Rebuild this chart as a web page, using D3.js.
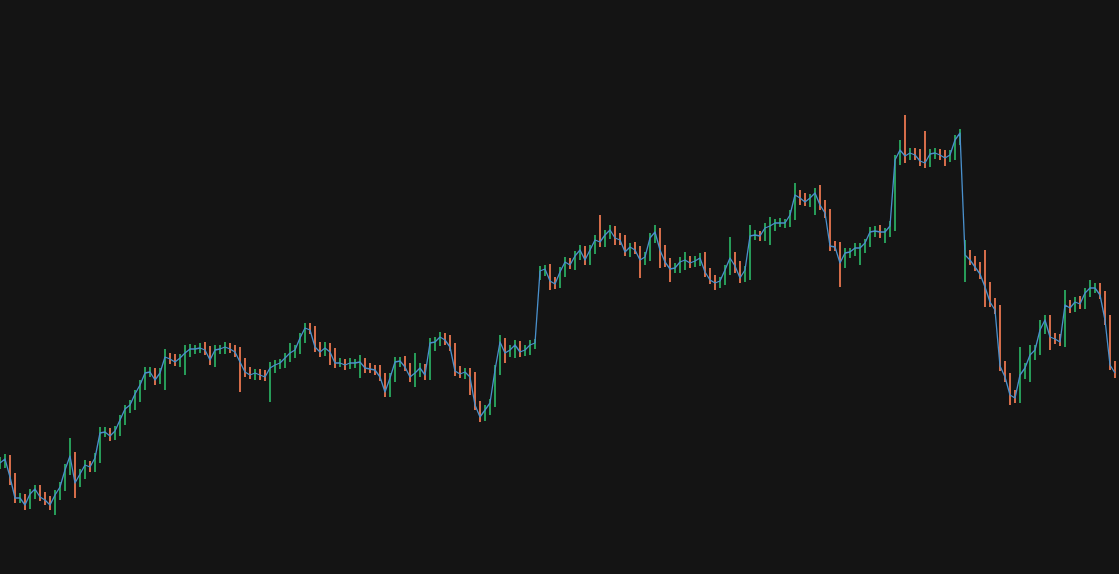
<!DOCTYPE html>
<html>
<head>
<meta charset="utf-8">
<script src="https://cdn.jsdelivr.net/npm/d3@7"></script>
<style>
  html, body { margin: 0; padding: 0; background: #141414; }
  svg { display: block; }
  .wick { stroke-width: 1.8; }
  .close-line { fill: none; stroke: #4a90cc; stroke-width: 1.3; stroke-linejoin: round; }
</style>
</head>
<body>
<svg width="1119" height="574"></svg>
<script>
const width = 1119, height = 574;

// closing prices, one per bar
const close = [
  137,141,123,102,102,95,106,111,103,100,
  95,105,113,130,144,117,126,135,133,142,
  167,168,164,169,180,191,195,206,215,227,
  228,220,227,243,241,238,242,247,251,251,
  252,250,240,250,251,253,251,248,238,228,
  225,227,225,223,232,235,237,242,247,250,
  262,272,270,253,248,252,248,237,237,235,
  237,237,238,232,231,230,223,208,222,238,
  239,233,223,227,232,225,257,258,263,260,
  253,229,226,228,223,195,183,190,197,230,
  258,247,250,255,248,250,255,257,329,331,
  319,316,328,338,335,344,350,340,350,360,
  358,365,370,362,360,348,353,350,340,343,
  362,368,350,338,331,332,338,340,337,339,
  342,328,320,317,319,330,342,334,322,330,
  364,365,364,372,374,377,377,377,385,405,
  402,398,402,407,395,387,354,353,337,347,
  348,352,352,357,368,369,368,368,374,440,
  450,444,447,445,439,437,446,447,445,442,
  445,460,467,345,340,333,326,313,298,290,
  234,223,205,202,225,232,245,250,270,280,
  263,261,258,295,292,298,296,307,312,312,
  305,280,235,227
];

// upper wick length above max(open, close)
const upperWick = [
  6,5,4,4,5,4,5,4,4,5,
  4,5,5,6,18,4,5,5,4,5,
  6,5,4,5,5,4,5,4,5,6,
  5,4,5,8,4,5,4,8,5,4,
  5,6,4,5,4,5,4,4,5,4,
  5,4,4,5,6,5,4,5,10,5,
  5,5,5,4,5,6,5,4,5,4,
  5,4,7,4,5,4,5,4,5,5,
  4,5,4,20,5,4,5,5,5,4,
  5,4,5,4,4,5,4,5,4,5,
  7,4,5,5,4,5,5,4,5,4,
  5,4,5,5,4,5,5,4,5,5,
  25,5,5,4,5,5,4,5,4,5,
  5,7,4,5,4,5,5,8,4,5,
  5,6,4,5,4,5,21,6,5,4,
  11,5,4,5,9,4,5,4,5,12,
  5,5,4,5,8,5,4,5,5,5,
  4,5,5,4,5,5,6,4,5,5,
  10,35,5,5,6,30,5,5,4,5,
  5,5,4,15,5,4,5,24,5,4,
  5,5,4,5,28,5,10,5,10,5,
  5,4,5,15,5,5,6,5,8,5,
  5,4,5,4
];

// lower wick length below min(open, close)
const lowerWick = [
  6,5,8,5,5,5,4,5,4,5,
  5,10,5,4,5,15,4,5,5,5,
  5,4,5,4,5,5,4,5,8,5,
  4,5,4,17,5,4,5,17,4,5,
  4,5,5,7,4,5,4,5,30,5,
  4,5,5,4,25,5,4,5,4,5,
  4,5,4,5,5,4,13,5,4,5,
  4,5,15,5,4,5,4,5,5,4,
  5,4,5,10,4,5,5,8,4,5,
  4,5,4,5,18,5,5,4,5,4,
  5,10,4,8,5,4,5,4,5,5,
  9,5,4,5,4,5,4,5,5,4,
  5,5,4,7,5,4,5,4,18,5,
  4,5,18,5,13,4,5,8,5,4,
  5,5,4,7,5,4,5,7,5,4,
  10,4,5,5,17,5,4,5,4,5,
  7,4,5,17,5,5,5,4,24,5,
  5,4,17,5,4,5,6,11,5,5,
  5,7,4,5,5,5,4,5,5,8,
  4,5,5,7,5,4,5,20,5,4,
  5,5,10,5,5,4,14,5,5,4,
  13,5,4,5,5,4,5,5,4,5,
  4,5,5,5
];

// bars that opened with a gap instead of at the previous close
const gapIndex = [108, 193];
const gapOpen = [325, 325];

const priceRange = [80, 490];

const bars = close.map((c, i) => {
  const g = gapIndex.indexOf(i);
  const open = g >= 0 ? gapOpen[g] : (i > 0 ? close[i - 1] : c);
  return {
    i: i,
    open: open,
    close: c,
    high: Math.max(open, c) + upperWick[i],
    low: Math.min(open, c) - lowerWick[i]
  };
});

const svg = d3.select("svg");

const x = d3.scaleLinear()
    .domain([0, bars.length - 1])
    .range([0, 1115]);

const y = d3.scaleLinear()
    .domain(priceRange)
    .range([520, 110]);

svg.append("g")
    .selectAll("line")
    .data(bars)
    .enter().append("line")
    .attr("class", "wick")
    .attr("x1", d => x(d.i))
    .attr("x2", d => x(d.i))
    .attr("y1", d => y(d.low))
    .attr("y2", d => y(d.high))
    .attr("stroke", d => d.close >= d.open ? "#2aab60" : "#ea7750");

const line = d3.line()
    .x(d => x(d.i))
    .y(d => y(d.close));

svg.append("path")
    .datum(bars)
    .attr("class", "close-line")
    .attr("d", line);
</script>
</body>
</html>
